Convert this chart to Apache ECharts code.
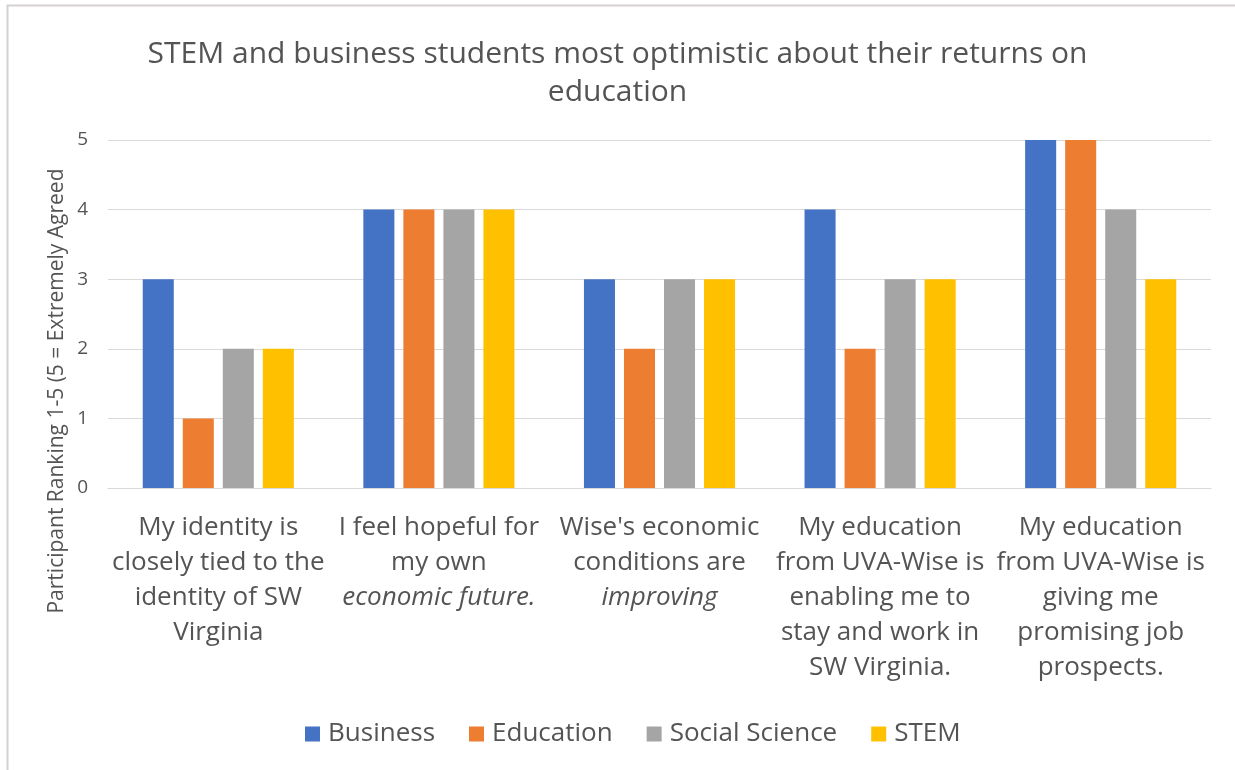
<!DOCTYPE html>
<html>
<head>
<meta charset="utf-8">
<script src="https://cdn.jsdelivr.net/npm/echarts@6/dist/echarts.min.js"></script>
<style>
  html, body { margin: 0; padding: 0; background: #ffffff; }
  #chart { width: 1235px; height: 770px; }
</style>
</head>
<body>
<div id="chart"></div>
<script>
// Survey statements (one entry per category, lines split with \n)
const categories = [
  'My identity is\nclosely tied to the\nidentity of SW\nVirginia',
  'I feel hopeful for\nmy own\neconomic future.',
  "Wise's economic\nconditions are\nimproving",
  'My education\nfrom UVA-Wise is\nenabling me to\nstay and work in\nSW Virginia.',
  'My education\nfrom UVA-Wise is\ngiving me\npromising job\nprospects.'
];
// Label lines set in italics
const italicLines = ['economic future.', 'improving'];

const seriesNames = ['Business', 'Education', 'Social Science', 'STEM'];
const business = [3, 4, 3, 4, 5];
const education = [1, 4, 2, 2, 5];
const socialScience = [2, 4, 3, 3, 4];
const stem = [2, 4, 3, 3, 3];

const yTicks = { min: 0, max: 5, interval: 1 };

const colors = ['#4472C4', '#ED7D31', '#A5A5A5', '#FFC000'];
const textColor = '#545454';
const font = '"Open Sans", Lato, "Noto Sans", sans-serif';

const chart = echarts.init(document.getElementById('chart'), null, { renderer: 'canvas' });

const values = [business, education, socialScience, stem];

chart.setOption({
  backgroundColor: '#ffffff',
  color: colors,
  textStyle: { fontFamily: font },
  title: {
    text: 'STEM and business students most optimistic about their returns on\neducation',
    left: 'center',
    top: 30,
    textStyle: {
      fontFamily: font,
      fontSize: 30,
      fontWeight: 'normal',
      color: textColor,
      lineHeight: 38
    }
  },
  legend: {
    top: 716,
    left: 300,
    icon: 'rect',
    itemWidth: 15,
    itemHeight: 15,
    itemGap: 34,
    textStyle: { fontFamily: font, fontSize: 26, color: textColor, padding: [0, 0, 0, 3] },
    data: seriesNames
  },
  grid: { left: 108, right: 24, top: 140, bottom: 282, containLabel: false },
  xAxis: {
    type: 'category',
    data: categories,
    axisLine: { lineStyle: { color: '#D9D9D9', width: 1 } },
    axisTick: { show: false },
    axisLabel: {
      interval: 0,
      margin: 22,
      color: textColor,
      fontSize: 26,
      lineHeight: 35,
      formatter: function (value) {
        return value.split('\n').map(function (line) {
          return italicLines.indexOf(line) >= 0 ? '{i|' + line + '}' : '{n|' + line + '}';
        }).join('\n');
      },
      rich: {
        n: { fontFamily: font, fontSize: 26, lineHeight: 35, color: textColor },
        i: { fontFamily: font, fontSize: 26, lineHeight: 35, color: textColor, fontStyle: 'italic' }
      }
    }
  },
  yAxis: {
    type: 'value',
    min: yTicks.min,
    max: yTicks.max,
    interval: yTicks.interval,
    axisLine: { show: false },
    axisTick: { show: false },
    axisLabel: { color: textColor, fontSize: 19, margin: 20, fontFamily: font },
    splitLine: { lineStyle: { color: '#D9D9D9', width: 1 } }
  },
  graphic: [
    {
      type: 'rect',
      silent: true,
      shape: { x: 7.5, y: 5.5, width: 1400, height: 900 },
      style: { fill: 'none', stroke: '#D6D0D0', lineWidth: 2 }
    },
    {
      type: 'text',
      silent: true,
      x: 57,
      y: 391,
      rotation: Math.PI / 2,
      style: {
        text: 'Participant Ranking 1-5 (5 = Extremely Agreed',
        fontFamily: font,
        fontSize: 21,
        fill: textColor,
        textAlign: 'center',
        textVerticalAlign: 'middle'
      }
    }
  ],
  series: seriesNames.map(function (name, i) {
    return {
      name: name,
      type: 'bar',
      data: values[i],
      barGap: '29%',
      barCategoryGap: '31.5%',
      itemStyle: { color: colors[i] }
    };
  })
});
</script>
</body>
</html>
